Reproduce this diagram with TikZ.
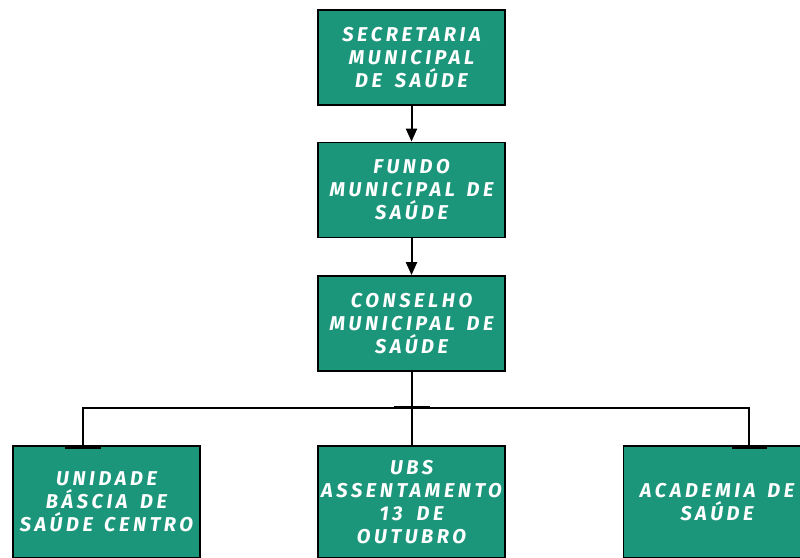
\documentclass[tikz,border=0pt]{standalone}
\usepackage{fontspec}
\setmainfont{Fira Sans}
\newfontfamily\boxfont[LetterSpace=18]{Fira Sans}
\newcommand\boxfontset{\boxfont\bfseries\itshape\fontsize{20}{23}\selectfont}
\newcommand\widespaces{\spaceskip=11pt plus 2pt minus 1pt\relax}
\usetikzlibrary{arrows.meta}
\definecolor{tealbox}{HTML}{1C967B}
\begin{document}
\begin{tikzpicture}[x=1pt,y=-1pt,
  box/.style={draw=black, line width=1.8pt, fill=tealbox, minimum width=187pt,
    minimum height=95pt, inner sep=0pt, text=white, align=center, text width=187pt,
    font=\boxfontset, execute at begin node=\widespaces},
  tallbox/.style={box, minimum height=112pt},
  conn/.style={line width=2pt},
  arr/.style={conn, -{Triangle[length=13pt,width=11pt]}},
  bar/.style={line width=3pt}]
\clip (0,0) rectangle (800,557);
\fill[white] (0,0) rectangle (800,557);
\node[box] (sec) at (411.5,57.5) {SECRETARIA\\MUNICIPAL\\DE SAÚDE};
\node[box] (fun) at (411.5,190) {FUNDO\\MUNICIPAL DE\\SAÚDE};
\node[box] (con) at (411.5,323.5) {CONSELHO\\MUNICIPAL DE\\SAÚDE};
\node[tallbox] (uni) at (106.5,502) {UNIDADE\\BÁSCIA DE\\SAÚDE CENTRO};
\node[tallbox] (ubs) at (411.5,502) {UBS\\ASSENTAMENTO\\13 DE\\OUTUBRO};
\node[tallbox] (aca) at (717,502) {ACADEMIA DE\\SAÚDE};
\coordinate (bus) at (411.5,408);
\draw[arr] (sec) -- (fun);
\draw[arr] (fun) -- (con);
\draw[conn] (con.south) -- (ubs.north);
\draw[conn] ([xshift=-24pt]uni.north) |- (bus) -| ([xshift=32pt]aca.north);
\draw[bar] ([xshift=-18pt,yshift=1pt]bus) -- ([xshift=18pt,yshift=1pt]bus);
\draw[bar] ([xshift=-42pt,yshift=-2pt]uni.north) -- ([xshift=-6pt,yshift=-2pt]uni.north);
\draw[bar] ([xshift=15pt,yshift=-2pt]aca.north) -- ([xshift=50pt,yshift=-2pt]aca.north);
\end{tikzpicture}
\end{document}
